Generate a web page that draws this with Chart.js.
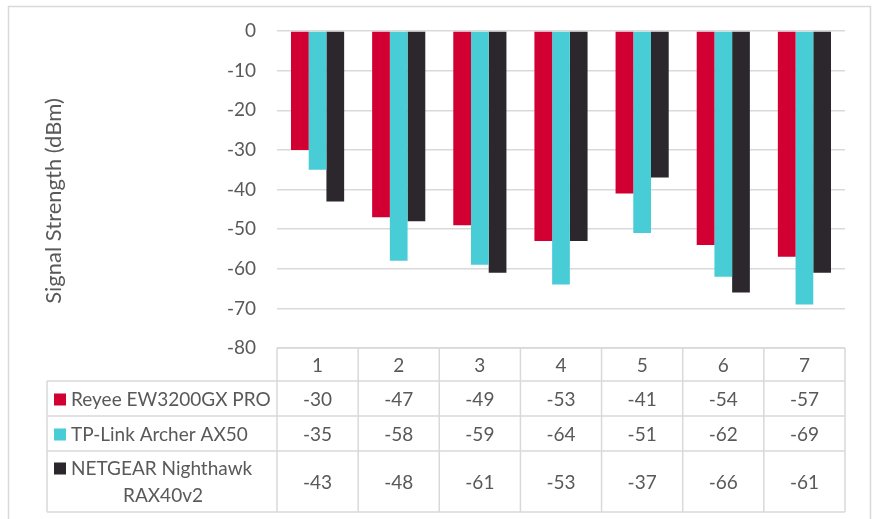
<!DOCTYPE html>
<html>
<head>
<meta charset="utf-8">
<script src="https://cdn.jsdelivr.net/npm/chart.js@4"></script>
<style>
  html, body { margin: 0; padding: 0; background: #fff; }
  #wrap { width: 872px; height: 519px; }
</style>
</head>
<body>
<div id="wrap"><canvas id="c" width="872" height="519"></canvas></div>
<script>
const categories = ['1', '2', '3', '4', '5', '6', '7'];
const seriesNames = [['Reyee EW3200GX PRO'], ['TP-Link Archer AX50'], ['NETGEAR Nighthawk', 'RAX40v2']];
const reyee = [-30, -47, -49, -53, -41, -54, -57];
const tplink = [-35, -58, -59, -64, -51, -62, -69];
const netgear = [-43, -48, -61, -53, -37, -66, -61];
const yTicks = [0, -10, -20, -30, -40, -50, -60, -70, -80];
const axisTitle = 'Signal Strength (dBm)';

const colors = ['#D20032', '#48CDD6', '#2B272D'];
const textColor = '#595959';
const lineColor = '#D9D9D9';
const FONT = 'Lato, "Open Sans", sans-serif';
const FS = 19;
const TITLE_FS = 22;

const tablePlugin = {
  id: 'tablePlugin',
  beforeDraw(chart) {
    const ctx = chart.ctx;
    ctx.save();
    ctx.fillStyle = '#fff';
    ctx.fillRect(0, 0, chart.width, chart.height);
    ctx.strokeStyle = lineColor;
    ctx.lineWidth = 1.5;
    ctx.strokeRect(8.5, 6.5, 862, 600);
    ctx.restore();
  },
  afterDraw(chart) {
    const ctx = chart.ctx;
    const xs = chart.scales.x;
    const area = chart.chartArea;
    const catW = (xs.right - xs.left) / categories.length;
    const tableLeft = 47;
    const top = area.bottom;           // 348
    const rowLines = [top + 33, top + 68, top + 103, top + 164]; // 381,416,451,512
    ctx.save();
    ctx.strokeStyle = lineColor;
    ctx.lineWidth = 1.5;
    ctx.beginPath();
    ctx.moveTo(xs.left, top); ctx.lineTo(xs.right, top);
    rowLines.forEach(y => { ctx.moveTo(tableLeft, y); ctx.lineTo(xs.right, y); });
    ctx.moveTo(tableLeft, rowLines[0]); ctx.lineTo(tableLeft, rowLines[3]);
    for (let i = 0; i <= categories.length; i++) {
      const x = xs.left + i * catW;
      ctx.moveTo(x, top); ctx.lineTo(x, rowLines[3]);
    }
    ctx.stroke();

    const data = [reyee, tplink, netgear];
    ctx.font = FS + 'px ' + FONT;
    ctx.fillStyle = textColor;
    ctx.textBaseline = 'middle';
    for (let r = 0; r < 3; r++) {
      const y0 = rowLines[r], y1 = rowLines[r + 1];
      const cy = (y0 + y1) / 2 + 1;
      ctx.textAlign = 'center';
      ctx.fillStyle = textColor;
      data[r].forEach((v, i) => {
        ctx.fillText(String(v), xs.getPixelForValue(i), cy);
      });
      const names = seriesNames[r];
      if (names.length === 1) {
        ctx.fillStyle = colors[r];
        ctx.fillRect(54, cy - 6, 12, 12);
        ctx.fillStyle = textColor;
        ctx.textAlign = 'left';
        ctx.fillText(names[0], 71, cy);
      } else {
        const ly1 = cy - 14, ly2 = cy + 13;
        ctx.fillStyle = colors[r];
        ctx.fillRect(54, ly1 - 6, 12, 12);
        ctx.fillStyle = textColor;
        ctx.textAlign = 'left';
        ctx.fillText(names[0], 71, ly1);
        ctx.textAlign = 'center';
        ctx.fillText(names[1], 163, ly2);
      }
    }

    ctx.save();
    ctx.translate(54, 201);
    ctx.rotate(-Math.PI / 2);
    ctx.textAlign = 'center';
    ctx.textBaseline = 'middle';
    ctx.fillStyle = textColor;
    ctx.font = TITLE_FS + 'px ' + FONT;
    ctx.fillText(axisTitle, 0, 0);
    ctx.restore();
    ctx.restore();
  }
};

new Chart(document.getElementById('c'), {
  type: 'bar',
  data: {
    labels: categories,
    datasets: [
      { label: seriesNames[0].join(' '), data: reyee, backgroundColor: colors[0] },
      { label: seriesNames[1].join(' '), data: tplink, backgroundColor: colors[1] },
      { label: seriesNames[2].join(' '), data: netgear, backgroundColor: colors[2] }
    ]
  },
  options: {
    responsive: false,
    animation: false,
    devicePixelRatio: 1,
    layout: { padding: { left: 0, right: 27, top: 31, bottom: 0 } },
    datasets: { bar: { categoryPercentage: 0.655, barPercentage: 1.0, borderWidth: 0 } },
    plugins: { legend: { display: false }, tooltip: { enabled: false } },
    scales: {
      x: {
        grid: { display: false, drawTicks: false },
        border: { display: false },
        ticks: { color: textColor, font: { family: FONT, size: FS }, padding: 6 },
        afterFit(s) { s.height = 171; s.paddingLeft = 0; s.paddingRight = 0; }
      },
      y: {
        min: -80, max: 0,
        afterBuildTicks(s) { s.ticks = yTicks.map(v => ({ value: v })); },
        grid: { color: lineColor, lineWidth: 1.5, drawTicks: false },
        border: { display: false },
        ticks: { color: textColor, font: { family: FONT, size: FS }, padding: 21 },
        afterFit(s) { s.width = 277; s.paddingTop = 0; s.paddingBottom = 0; }
      }
    }
  },
  plugins: [tablePlugin]
});
</script>
</body>
</html>
